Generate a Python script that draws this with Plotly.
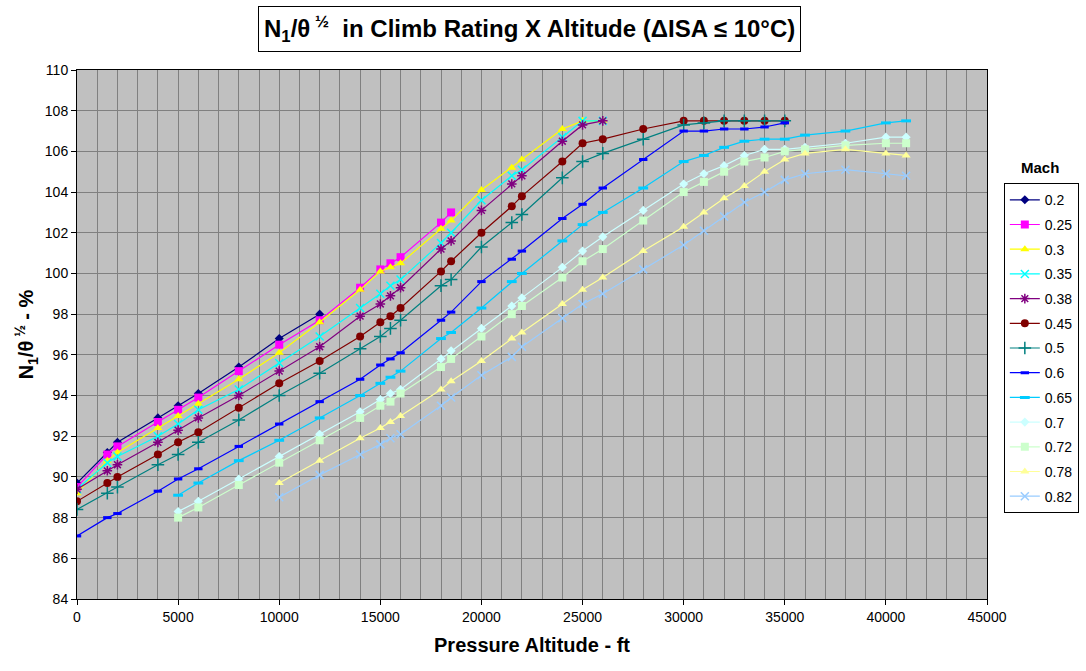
import plotly.graph_objects as go

mach_labels = ["0.2", "0.25", "0.3", "0.35", "0.38", "0.45", "0.5", "0.6", "0.65", "0.7", "0.72", "0.78", "0.82"]

alt_a = [0, 1500, 2000, 4000, 5000, 6000, 8000, 10000, 12000, 14000, 15000, 15500, 16000,
         18000, 18500, 20000, 21500, 22000, 24000, 25000, 26000, 28000, 30000, 31000, 32000,
         33000, 34000, 35000]
alt_b = [5000, 6000, 8000, 10000, 12000, 14000, 15000, 15500, 16000, 18000, 18500, 20000,
         21500, 22000, 24000, 25000, 26000, 28000, 30000, 31000, 32000, 33000, 34000, 35000,
         36000, 38000, 40000, 41000]
alt_c = [10000, 12000, 14000, 15000, 15500, 16000, 18000, 18500, 20000, 21500, 22000, 24000,
         25000, 26000, 28000, 30000, 31000, 32000, 33000, 34000, 35000, 36000, 38000, 40000, 41000]

alt_02 = alt_a[:9]
n1_02 = [89.7, 91.2, 91.7, 92.9, 93.5, 94.1, 95.4, 96.8, 98.0]
alt_025 = alt_a[:15]
n1_025 = [89.5, 91.1, 91.5, 92.7, 93.3, 93.9, 95.2, 96.5, 97.7, 99.3, 100.2, 100.5, 100.8, 102.5, 103.0]
alt_03 = alt_a[:21]
n1_03 = [89.2, 90.8, 91.2, 92.4, 93.0, 93.6, 94.8, 96.1, 97.6, 99.2, 100.1, 100.3, 100.5,
         102.2, 102.6, 104.1, 105.2, 105.6, 107.1, 107.5, 107.5]
alt_035 = alt_a[:21]
n1_035 = [89.4, 90.7, 91.0, 92.0, 92.6, 93.3, 94.3, 95.6, 96.9, 98.3, 99.0, 99.4, 99.7,
          101.5, 102.0, 103.6, 104.8, 105.1, 106.7, 107.5, 107.5]
alt_038 = alt_a[:21]
n1_038 = [89.4, 90.3, 90.6, 91.7, 92.3, 92.9, 94.0, 95.2, 96.4, 97.9, 98.5, 98.9, 99.3,
          101.2, 101.6, 103.1, 104.4, 104.8, 106.5, 107.3, 107.5]
alt_045 = alt_a
n1_045 = [88.8, 89.7, 90.0, 91.1, 91.7, 92.2, 93.4, 94.6, 95.7, 96.9, 97.6, 97.9, 98.3,
          100.1, 100.6, 102.0, 103.3, 103.8, 105.5, 106.4, 106.6, 107.1, 107.5, 107.5, 107.5,
          107.5, 107.5, 107.5]
alt_05 = alt_a
n1_05 = [88.4, 89.2, 89.5, 90.6, 91.1, 91.7, 92.8, 94.0, 95.1, 96.3, 96.9, 97.3, 97.7,
         99.4, 99.7, 101.3, 102.5, 102.9, 104.7, 105.5, 105.9, 106.6, 107.3, 107.4, 107.5,
         107.5, 107.5, 107.5]
alt_06 = alt_a
n1_06 = [87.1, 88.0, 88.2, 89.3, 89.9, 90.4, 91.5, 92.6, 93.7, 94.8, 95.5, 95.8, 96.1,
         97.7, 98.1, 99.6, 100.7, 101.1, 102.7, 103.4, 104.2, 105.6, 107.0, 107.0, 107.1,
         107.1, 107.2, 107.4]
alt_065 = alt_b
n1_065 = [89.1, 89.7, 90.8, 91.8, 92.9, 94.0, 94.6, 94.9, 95.2, 96.8, 97.1, 98.3, 99.6,
          100.0, 101.6, 102.4, 103.0, 104.2, 105.5, 105.8, 106.2, 106.5, 106.6, 106.6, 106.8,
          107.0, 107.4, 107.5]
alt_07 = alt_b
n1_07 = [88.3, 88.8, 89.9, 91.0, 92.1, 93.2, 93.8, 94.1, 94.3, 95.8, 96.2, 97.3, 98.4,
         98.8, 100.3, 101.1, 101.8, 103.1, 104.4, 104.9, 105.3, 105.8, 106.1, 106.1, 106.2,
         106.4, 106.7, 106.7]
alt_072 = alt_b
n1_072 = [88.0, 88.5, 89.6, 90.7, 91.8, 92.9, 93.5, 93.7, 94.1, 95.4, 95.8, 96.9, 98.0,
          98.4, 99.8, 100.6, 101.2, 102.6, 104.0, 104.5, 105.0, 105.5, 105.7, 106.0, 106.1,
          106.3, 106.4, 106.4]
alt_078 = alt_c
n1_078 = [89.7, 90.8, 91.9, 92.4, 92.7, 93.0, 94.3, 94.7, 95.7, 96.8, 97.1, 98.5, 99.2,
          99.8, 101.1, 102.3, 103.0, 103.7, 104.3, 105.0, 105.6, 105.9, 106.1, 105.9, 105.8]
alt_082 = alt_c
n1_082 = [89.0, 90.1, 91.1, 91.6, 91.9, 92.1, 93.5, 93.9, 95.0, 95.9, 96.4, 97.8, 98.5,
          99.0, 100.2, 101.4, 102.1, 102.8, 103.5, 104.0, 104.6, 104.9, 105.1, 104.9, 104.8]

x_series = [alt_02, alt_025, alt_03, alt_035, alt_038, alt_045, alt_05, alt_06, alt_065,
            alt_07, alt_072, alt_078, alt_082]
y_series = [n1_02, n1_025, n1_03, n1_035, n1_038, n1_045, n1_05, n1_06, n1_065,
            n1_07, n1_072, n1_078, n1_082]

colors = ["#000080", "#FF00FF", "#FFFF00", "#00FFFF", "#800080", "#800000", "#008080",
          "#0000FF", "#00CCFF", "#CCFFFF", "#CCFFCC", "#FFFF99", "#99CCFF"]
symbols = ["diamond", "square", "triangle-up", "x-thin-open", "asterisk-open", "circle",
           "cross-thin-open", "line-ew-open", "line-ew-open", "diamond", "square",
           "triangle-up", "x-thin-open"]
sizes = [7, 8, 8, 8, 8, 8, 9, 6, 7, 7, 8, 8, 8]

fig = go.Figure()
for i, lab in enumerate(mach_labels):
    sym = symbols[i]
    mline = dict(width=1.5, color=colors[i]) if sym.endswith("open") else dict(width=0)
    if sym == "line-ew-open":
        mline = dict(width=3, color=colors[i])
    fig.add_trace(go.Scatter(
        x=x_series[i], y=y_series[i], name=lab, mode="lines+markers",
        legendgroup=lab,
        line=dict(color=colors[i], width=1.2),
        marker=dict(symbol=sym, size=sizes[i], color=colors[i], line=mline),
    ))

font_family = "Arial, Liberation Sans, sans-serif"

fig.update_layout(
    width=1086, height=671,
    margin=dict(l=77, r=99, t=70, b=72, autoexpand=False),
    paper_bgcolor="white",
    plot_bgcolor="#C0C0C0",
    font=dict(family=font_family, size=14, color="black"),
    showlegend=True,
    legend=dict(
        x=1.0185, y=0.786, xanchor="left", yanchor="top",
        bgcolor="white", bordercolor="black", borderwidth=1,
        font=dict(size=14, family=font_family, color="black"),
        tracegroupgap=3.5, itemwidth=30,
    ),
    xaxis=dict(
        range=[0, 45000], dtick=5000, tick0=0, tickformat="d",
        showgrid=True, gridcolor="#808080", gridwidth=1,
        minor=dict(dtick=1000, showgrid=True, gridcolor="#808080", gridwidth=1),
        ticks="outside", ticklen=5, tickcolor="black",
        showline=True, linecolor="black", linewidth=1, mirror=True,
        zeroline=False, automargin=False,
        title=dict(text="<b>Pressure Altitude - ft</b>", font=dict(size=20, family=font_family), standoff=14),
        tickfont=dict(size=14, color="black"),
    ),
    yaxis=dict(
        range=[84, 110], dtick=2, tick0=84,
        showgrid=True, gridcolor="#808080", gridwidth=1,
        ticks="outside", ticklen=5, tickcolor="black",
        showline=True, linecolor="black", linewidth=1, mirror=True,
        zeroline=False, automargin=False,
        title=dict(text="<b>N<sub>1</sub>/θ<sup> ½</sup> - %</b>", font=dict(size=20, family=font_family), standoff=5),
        tickfont=dict(size=14, color="black"),
    ),
    annotations=[
        dict(text="<b>N<sub>1</sub>/θ<sup> ½</sup>  in Climb Rating X Altitude (ΔISA ≤ 10°C)</b>",
             xref="paper", yref="paper", x=0.497, y=1.0775, xanchor="center", yanchor="middle",
             showarrow=False, font=dict(size=24, family=font_family, color="black"),
             bordercolor="black", borderwidth=1, borderpad=5, bgcolor="white"),
        dict(text="<b>Mach</b>", xref="paper", yref="paper", x=1.058, y=0.8166,
             xanchor="center", yanchor="middle", showarrow=False,
             font=dict(size=15, family=font_family, color="black")),
    ],
)

fig.write_html("out.html", config={"displayModeBar": False},
               post_script="document.body.style.margin='0';document.body.style.overflow='hidden';")
